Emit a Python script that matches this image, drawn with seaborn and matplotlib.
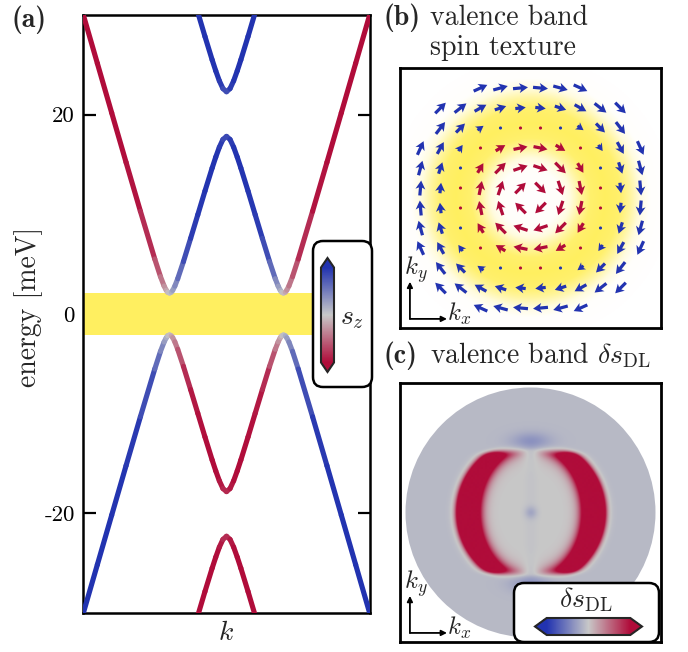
import numpy as np
import pandas as pd
import matplotlib
matplotlib.use("Agg")
import matplotlib.pyplot as plt
import seaborn as sns
from matplotlib.collections import LineCollection
from matplotlib.colors import LinearSegmentedColormap, Normalize, to_rgb
from matplotlib.patches import FancyBboxPatch, Circle
from matplotlib.transforms import IdentityTransform
from matplotlib.cm import ScalarMappable

sns.set_theme(style="white")
plt.rcParams.update({
    "font.family": ["cmr10"],
    "mathtext.fontset": "cm",
    "axes.unicode_minus": False,
    "axes.formatter.use_mathtext": True,
})

# ------------------------------------------------------------------ data
# panel (a): band energies (meV) read at momenta k (k = +-1 at the frame edges)
k_half = [0.0, 0.025, 0.05, 0.075, 0.1, 0.15, 0.2, 0.25, 0.3, 0.34, 0.36, 0.375,
          0.385, 0.397, 0.41, 0.42, 0.435, 0.46, 0.5, 0.6, 0.7, 0.8, 0.9, 1.0]
E_inner = [17.82, 17.51, 16.73, 15.74, 14.65, 12.34, 9.96, 7.59, 5.26, 3.54, 2.80, 2.37,
           2.19, 2.10, 2.19, 2.39, 2.81, 3.75, 5.52, 10.31, 15.22, 20.18, 25.15, 30.12]
sz_inner = [0.8, 0.9, 0.97, 1.0, 1.0, 0.98, 0.96, 0.9, 0.75, 0.5, 0.35, 0.22,
            0.12, 0.0, -0.13, -0.23, -0.36, -0.52, -0.72, -0.93, -0.98, -1.0, -1.0, -1.0]
k_outer = [0.0, 0.025, 0.05, 0.075, 0.1, 0.15, 0.2, 0.25]
E_outer = [22.30, 22.62, 23.40, 24.40, 25.50, 27.84, 30.26, 32.71]
sz_outer = [0.75, 0.9, 0.97, 1.0, 1.0, 1.0, 1.0, 1.0]
gap_window = (-2.1, 2.1)
energy_ticks = [-20, 0, 20]
energy_ticklabels = ["-20", "0", "20"]

# panel (b): spin-texture grid, arrow length per squared radius, yellow ring profile
grid_b = [-5.5, -4.5, -3.5, -2.5, -1.5, -0.5, 0.5, 1.5, 2.5, 3.5, 4.5, 5.5]
arrow_r2 = [0.5, 2.5, 4.5, 6.5, 8.5, 12.5, 14.5, 18.5, 20.5, 22.5, 24.5, 26.5, 30.5, 32.5, 36.5, 40.5]
arrow_len = [1.0, 1.0, 1.0, 0.95, 0.75, 0.0, 0.0, 0.5, 0.7, 0.8, 0.85, 0.9, 1.0, 1.0, 1.0, 1.0]
switch_r2 = 13.3
ring_r = [0.0, 1.5, 2.0, 2.5, 3.0, 3.75, 4.5, 5.0, 5.5, 6.0, 7.0]
ring_I = [0.0, 0.03, 0.2, 0.6, 0.92, 1.0, 0.92, 0.6, 0.2, 0.02, 0.0]

# panel (c): delta s_DL map features (pixel units, circle centred at 0)
ds_disk_r = 125
ds_inner_a, ds_inner_b = 53, 67
ds_outer_r = 73.5
ds_cut_y = 60
ds_notch_w = 10
ds_ring_level = 3.0
ds_background = -0.1
ds_spot_level, ds_spot_y = -0.28, 71
ds_center_level = -0.2

BLUE, GREY, RED = "#2233B0", "#C8C8C8", "#B00C3A"
YELLOW = "#FFEF60"

cmap_ds = LinearSegmentedColormap.from_list("bgr", [BLUE, GREY, RED])
cmap_sz = cmap_ds.reversed()
norm = Normalize(-1, 1)

W, H = 688, 652
fig = plt.figure(figsize=(W / 100, H / 100), dpi=100)


def rect(x0, y0, x1, y1):
    return [x0 / W, 1 - y1 / H, (x1 - x0) / W, (y1 - y0) / H]


def mirrored(k, v, flip=1.0):
    k = np.asarray(k, float)
    v = np.asarray(v, float)
    return np.concatenate([-k[::-1], k[1:]]), flip * np.concatenate([v[::-1], v[1:]])


# ------------------------------------------------------------------ (a)
ax_a = fig.add_axes(rect(83, 15, 370, 613))
ax_a.set_xlim(-1, 1)
ax_a.set_ylim(-30, 30)
ax_a.axhspan(*gap_window, color=YELLOW, lw=0, zorder=1)


def gradient_line(ax, k, e, s):
    pts = np.column_stack([k, e])
    segs = np.stack([pts[:-1], pts[1:]], axis=1)
    lc = LineCollection(segs, cmap=cmap_sz, norm=norm, linewidths=3.7,
                        capstyle="round", zorder=3)
    lc.set_array(0.5 * (s[:-1] + s[1:]))
    ax.add_collection(lc)


K, Ein = mirrored(k_half, E_inner)
_, Sin = mirrored(k_half, sz_inner)
Ko, Eo = mirrored(k_outer, E_outer)
_, So = mirrored(k_outer, sz_outer)
gradient_line(ax_a, K, Ein, Sin)
gradient_line(ax_a, K, -Ein, -Sin)
gradient_line(ax_a, Ko, Eo, So)
gradient_line(ax_a, Ko, -Eo, -So)

ax_a.set_xticks([])
ax_a.set_yticks(energy_ticks)
ax_a.set_yticklabels(energy_ticklabels)
ax_a.tick_params(axis="y", direction="in", length=9, width=1.6, left=True, right=True,
                 labelsize=16.5, pad=6, colors="black")
for sp in ax_a.spines.values():
    sp.set_linewidth(1.8)
    sp.set_color("black")

fig.text(29 / W, 1 - 307 / H, "energy [meV]", rotation=90, ha="center", va="center", size=20)
fig.text(226 / W, 1 - 633 / H, "$k$", ha="center", va="center", size=20)
fig.text(12 / W, 1 - 27 / H, "(a)", family="cmb10", size=20, va="baseline")

# legend box with s_z colorbar
box_a = FancyBboxPatch((313, H - 387), 59, 146, boxstyle="round,pad=0,rounding_size=10",
                       transform=IdentityTransform(), facecolor="white", edgecolor="black",
                       linewidth=1.8, zorder=2)
fig.add_artist(box_a)
cax_a = fig.add_axes(rect(321, 258, 334, 372))
cax_a.set_zorder(3)
cb_a = fig.colorbar(ScalarMappable(norm=norm, cmap=cmap_sz), cax=cax_a, extend="both",
                    extendfrac=0.1)
cb_a.set_ticks([])
cb_a.outline.set_linewidth(1.5)
fig.text(352 / W, 1 - 318 / H, "$s_z$", ha="center", va="center", size=20, zorder=4)

# ------------------------------------------------------------------ (b)
fig.text(383 / W, 1 - 25 / H, "(b)", family="cmb10", size=20, va="baseline")
fig.text(430 / W, 1 - 25 / H, "valence band", size=20, va="baseline")
fig.text(430 / W, 1 - 55 / H, "spin texture", size=20, va="baseline")

ax_b = fig.add_axes(rect(400, 68, 661, 328))
xs_b = np.linspace(-6.6, 6.6, 400)
XB, YB = np.meshgrid(xs_b, xs_b)
IB = np.interp(np.hypot(XB, YB), ring_r, ring_I)
ycol = np.array(to_rgb(YELLOW))
img_b = 1 - IB[..., None] * (1 - ycol)
ax_b.imshow(img_b, extent=[-6.6, 6.6, -6.6, 6.6], origin="lower", interpolation="bilinear",
            aspect="auto", zorder=0)

rows = []
for gx in grid_b:
    for gy in grid_b:
        r2 = gx * gx + gy * gy
        if r2 > 41:
            continue
        L = arrow_len[arrow_r2.index(r2)]
        r = np.sqrt(r2)
        rows.append(dict(x=gx, y=gy, u=0.75 * L * gy / r, v=-0.75 * L * gx / r, L=L,
                         side="in" if r2 < switch_r2 else "out"))
df_b = pd.DataFrame(rows)
arr = df_b[df_b.L > 0]
ax_b.quiver(arr.x, arr.y, arr.u, arr.v,
            color=[RED if s == "in" else BLUE for s in arr.side],
            angles="xy", scale_units="xy", scale=1, pivot="middle", units="xy",
            width=0.16, headwidth=3.1, headlength=2.7, headaxislength=2.2, zorder=3)
dots = df_b[df_b.L == 0]
sns.scatterplot(data=dots, x="x", y="y", hue="side", palette={"in": RED, "out": BLUE},
                s=5, linewidth=0, legend=False, ax=ax_b, zorder=3)
ax_b.set_xlim(-6.525, 6.525)
ax_b.set_ylim(-6.5, 6.5)

# ------------------------------------------------------------------ (c)
fig.text(383 / W, 1 - 363 / H, "(c)", family="cmb10", size=20, va="baseline")
fig.text(430 / W, 1 - 363 / H, r"valence band $\delta s_{\mathrm{DL}}$", size=20, va="baseline")

ax_c = fig.add_axes(rect(400, 383, 661, 642))
n = 521
xs = np.linspace(-130, 130, n)
X, Y = np.meshgrid(xs, xs)
R = np.hypot(X, Y)
AY = np.abs(Y)


def sig(z):
    return 1 / (1 + np.exp(-z))


rho = np.hypot(X / ds_inner_a, Y / ds_inner_b)
inside = sig((1 - rho) / 0.05)
notch = 1 - np.exp(-(X / ds_notch_w) ** 2) * sig((AY - 45) / 3)
ring = (ds_ring_level * sig((rho - 1) / 0.065) * sig((ds_outer_r - R) / 2.0)
        * sig((ds_cut_y - AY) / 1.6) * notch)
spots = (ds_spot_level * np.exp(-(X / 20) ** 2 - ((AY - ds_spot_y) / 9) ** 2)
         * sig((AY - 63) / 0.8))
centre = ds_center_level * np.exp(-(R / 6) ** 2) - 0.03 * np.exp(-(X / 7) ** 2) * inside
V = ds_background * (1 - inside) + ring + spots + centre
im = ax_c.imshow(V, extent=[-130, 130, -130, 130], origin="lower", cmap=cmap_ds, norm=norm,
                 interpolation="bilinear", aspect="auto", zorder=1)
disk = Circle((0, 0), ds_disk_r, transform=ax_c.transData, facecolor="none", edgecolor="none")
ax_c.add_patch(disk)
im.set_clip_path(disk)
ax_c.set_xlim(-130.5, 130.5)
ax_c.set_ylim(-129.5, 129.5)

box_c = FancyBboxPatch((514, H - 642), 145, 59, boxstyle="round,pad=0,rounding_size=10",
                       transform=IdentityTransform(), facecolor="white", edgecolor="black",
                       linewidth=1.8, zorder=2)
fig.add_artist(box_c)
cax_c = fig.add_axes(rect(535, 618, 642, 635))
cax_c.set_zorder(3)
cb_c = fig.colorbar(ScalarMappable(norm=norm, cmap=cmap_ds), cax=cax_c, orientation="horizontal",
                    extend="both", extendfrac=0.14)
cb_c.set_ticks([])
cb_c.outline.set_linewidth(1.5)
fig.text(586 / W, 1 - 600 / H, r"$\delta s_{\mathrm{DL}}$", ha="center", va="center", size=20,
         zorder=4)

# frames and k-axis indicators for (b), (c)
for ax in (ax_b, ax_c):
    ax.set_xticks([])
    ax.set_yticks([])
    ax.set_xlabel("")
    ax.set_ylabel("")
    for sp in ax.spines.values():
        sp.set_linewidth(2)
        sp.set_color("black")
    for tip in [(0.038, 0.178), (0.18, 0.035)]:
        ax.annotate("", xy=tip, xytext=(0.038, 0.035), xycoords="axes fraction",
                    arrowprops=dict(arrowstyle="-|>", lw=1.3, color="black",
                                    mutation_scale=8, shrinkA=0, shrinkB=0), zorder=5)
    ax.text(0.06, 0.225, "$k_y$", transform=ax.transAxes, ha="center", va="center", size=18,
            zorder=5)
    ax.text(0.228, 0.055, "$k_x$", transform=ax.transAxes, ha="center", va="center", size=18,
            zorder=5)

fig.savefig("out.png", dpi=100)
